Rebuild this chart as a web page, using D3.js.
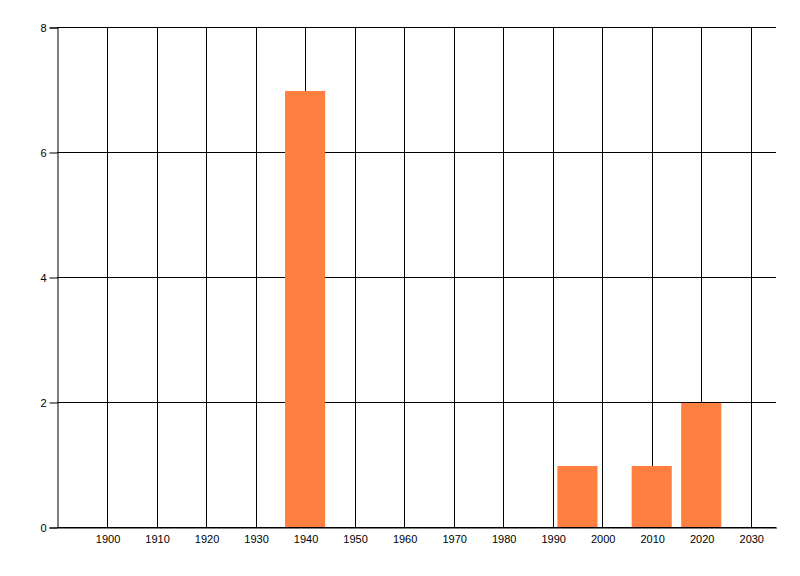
<!DOCTYPE html>
<html>
<head>
<meta charset="utf-8">
<script src="https://d3js.org/d3.v7.min.js"></script>
<style>
html,body{margin:0;padding:0;background:#fff;}
svg{display:block;}
text{font-family:"Liberation Sans","DejaVu Sans",sans-serif;font-size:11px;fill:#000;}
</style>
</head>
<body>
<script>
const years = [1940, 1995, 2010, 2020];
const counts = [7, 1, 1, 2];
const xTicks = [1900, 1910, 1920, 1930, 1940, 1950, 1960, 1970, 1980, 1990, 2000, 2010, 2020, 2030];
const yTicks = [0, 2, 4, 6, 8];
const xDomain = [1889.9, 2035.1];
const yDomain = [0, 8];
const barWidthYears = 8.1;

const W = 800, H = 576;
const m = {left: 57, right: 24, top: 27, bottom: 49};
const svg = d3.select("body").append("svg").attr("width", W).attr("height", H);

const x = d3.scaleLinear().domain(xDomain).range([m.left, W - m.right]);
const y = d3.scaleLinear().domain(yDomain).range([H - m.bottom, m.top]);

const g = svg.append("g");

// vertical gridlines
g.selectAll("line.vg").data(xTicks).enter().append("line")
  .attr("x1", d => Math.round(x(d)) + 0.5).attr("x2", d => Math.round(x(d)) + 0.5)
  .attr("y1", y(8)).attr("y2", y(0))
  .attr("stroke", "#000").attr("stroke-width", 1);

// horizontal gridlines
g.selectAll("line.hg").data(yTicks).enter().append("line")
  .attr("x1", m.left).attr("x2", W - m.right)
  .attr("y1", d => Math.round(y(d)) + 0.5).attr("y2", d => Math.round(y(d)) + 0.5)
  .attr("stroke", "#000").attr("stroke-width", 1);

// bars
const data = years.map((yr, i) => ({yr, c: counts[i]}));
g.selectAll("rect.bar").data(data).enter().append("rect")
  .attr("x", d => x(d.yr - barWidthYears / 2))
  .attr("width", d => x(d.yr + barWidthYears / 2) - x(d.yr - barWidthYears / 2))
  .attr("y", d => Math.round(y(d.c)) + 1)
  .attr("height", d => Math.round(y(0)) - Math.round(y(d.c)) - 1)
  .attr("fill", "#FF7F40");

// y axis
const yAxis = d3.axisLeft(y).tickValues(yTicks).tickSize(8).tickPadding(3).tickFormat(d3.format("d"));
const ya = svg.append("g").attr("transform", `translate(${m.left + 0.5},0.5)`).call(yAxis);
ya.select(".domain").attr("stroke", "#000");
ya.selectAll("text").style("font-size", "11px").attr("font-family", null);

// x axis
const xAxis = d3.axisBottom(x).tickValues(xTicks).tickSize(0).tickPadding(8).tickFormat(d3.format("d"));
const xa = svg.append("g").attr("transform", `translate(0.5,${Math.round(y(0)) + 0.5})`).call(xAxis);
xa.select(".domain").attr("stroke", "#000");
xa.selectAll("text").style("font-size", "11px").attr("font-family", null);
</script>
</body>
</html>
